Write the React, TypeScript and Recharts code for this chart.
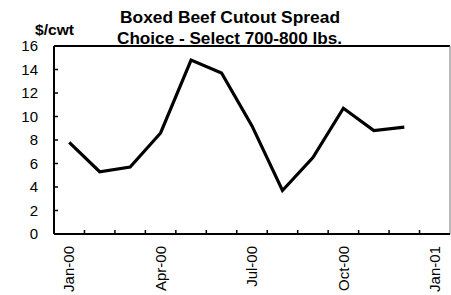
import { LineChart, Line, XAxis, YAxis, ReferenceLine } from 'recharts';

// monthly spread, $/cwt
const months = ['Jan-00', 'Feb-00', 'Mar-00', 'Apr-00', 'May-00', 'Jun-00', 'Jul-00', 'Aug-00', 'Sep-00', 'Oct-00', 'Nov-00', 'Dec-00', 'Jan-01'];
const spread = [7.8, 5.3, 5.7, 8.6, 14.8, 13.7, 9.2, 3.7, 6.5, 10.7, 8.8, 9.1];
const labelIdx = [0, 3, 6, 9, 12];
const yTicks = [0, 2, 4, 6, 8, 10, 12, 14, 16];

const data = spread.map((v, i) => ({ idx: i, month: months[i], spread: v }));

// tick marks sit between months, labels on every third month
const boundaries = months.slice(1).map((_, i) => i + 0.5);
const xTicks = [...labelIdx, ...boundaries].sort((a, b) => a - b);

const FONT = 'Arial, "Liberation Sans", sans-serif';

function XTick({ x, y, payload }: any) {
  const v = payload.value;
  if (!Number.isInteger(v)) {
    return <line x1={x} x2={x} y1={y} y2={y - 4} stroke="#000" strokeWidth={1.5} />;
  }
  return (
    <text
      x={x}
      y={y + 12}
      dy="0.35em"
      transform={`rotate(-90, ${x}, ${y + 12})`}
      textAnchor="end"
      fontFamily={FONT}
      fontSize={15}
      fill="#000"
    >
      {months[v]}
    </text>
  );
}

function YTick({ x, y, payload }: any) {
  return (
    <g>
      {payload.value > 0 && payload.value < 16 && (
        <line x1={x} x2={x + 4} y1={y} y2={y} stroke="#000" strokeWidth={1.5} />
      )}
      <text x={x - 16} y={y} dy="0.35em" textAnchor="end" fontFamily={FONT} fontSize={15} fill="#000">
        {payload.value}
      </text>
    </g>
  );
}

export default function App() {
  return (
    <div style={{ position: 'absolute', left: 0, top: 0, width: 451, height: 295, background: '#fff' }}>
      <LineChart width={451} height={295} data={data} margin={{ top: 46, right: 1, left: 0, bottom: 0 }}>
        <XAxis
          dataKey="idx"
          type="number"
          domain={[-0.5, 12.5]}
          ticks={xTicks}
          interval={0}
          tickSize={0}
          tickMargin={0}
          tick={<XTick />}
          height={61}
          axisLine={{ stroke: '#000', strokeWidth: 2 }}
          allowDataOverflow
        />
        <YAxis
          type="number"
          domain={[0, 16]}
          ticks={yTicks}
          interval={0}
          tickSize={0}
          tickMargin={0}
          tick={<YTick />}
          width={54}
          axisLine={{ stroke: '#000', strokeWidth: 2 }}
        />
        <ReferenceLine y={16} stroke="#000" strokeWidth={2} />
        <ReferenceLine x={12.5} stroke="#777" strokeWidth={1} />
        <Line
          type="linear"
          dataKey="spread"
          stroke="#000"
          strokeWidth={3.2}
          dot={false}
          isAnimationActive={false}
        />
      </LineChart>
      <svg width={451} height={295} style={{ position: 'absolute', left: 0, top: 0, pointerEvents: 'none' }}>
        <text x={120} y={22.7} textLength={220} lengthAdjust="spacingAndGlyphs" fontFamily={FONT} fontWeight="bold" fontSize={16.5} fill="#000">
          Boxed Beef Cutout Spread
        </text>
        <text x={117} y={44.3} textLength={225} lengthAdjust="spacingAndGlyphs" fontFamily={FONT} fontWeight="bold" fontSize={16.5} fill="#000">
          Choice - Select 700-800 lbs.
        </text>
        <text x={35} y={35} textLength={39} lengthAdjust="spacingAndGlyphs" fontFamily={FONT} fontWeight="bold" fontSize={14} fill="#000">
          $/cwt
        </text>
      </svg>
    </div>
  );
}
